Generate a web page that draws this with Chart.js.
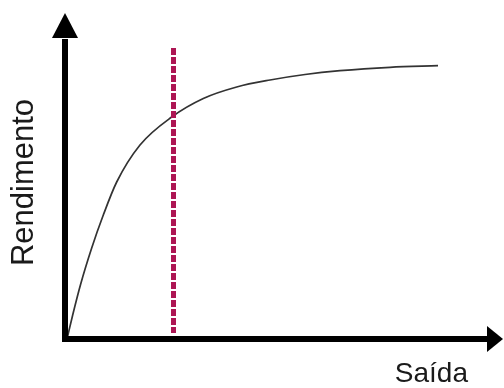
<!DOCTYPE html>
<html>
<head>
<meta charset="utf-8">
<script src="https://cdn.jsdelivr.net/npm/chart.js@4/dist/chart.umd.min.js"></script>
<style>
html,body{margin:0;padding:0;background:#fff;}
canvas{display:block;}
</style>
</head>
<body>
<canvas id="c" width="504" height="388"></canvas>
<script>
// Curve (Saída -> Rendimento) in arbitrary units
const curveX = [2, 7.7, 15.7, 26.7, 38.3, 51.7, 75, 106.7, 138.3, 171.7, 205, 240, 275, 325, 373];
const curveY = [0, 24, 55, 91, 124, 157, 194, 222, 240.5, 252, 259, 264.5, 268.3, 271.7, 273.3];
// Vertical dashed marker
const markerX = [108.5, 108.5];
const markerY = [291, 6];
// Axis ranges
const xRange = [0, 403];
const yRange = [0, 313];
const xLabel = 'Saída';
const yLabel = 'Rendimento';

const arrowAxes = {
  id: 'arrowAxes',
  afterDatasetsDraw(chart) {
    const {ctx, chartArea: a} = chart;
    ctx.save();
    ctx.fillStyle = '#000';
    ctx.strokeStyle = '#000';
    ctx.lineWidth = 6;
    // vertical axis
    ctx.beginPath();
    ctx.moveTo(a.left, a.bottom + 3);
    ctx.lineTo(a.left, a.top + 13);
    ctx.stroke();
    ctx.beginPath();
    ctx.moveTo(a.left, a.top - 13);
    ctx.lineTo(a.left - 13, a.top + 12);
    ctx.lineTo(a.left + 13, a.top + 12);
    ctx.closePath();
    ctx.fill();
    // horizontal axis
    ctx.beginPath();
    ctx.moveTo(a.left - 3, a.bottom);
    ctx.lineTo(a.right + 20, a.bottom);
    ctx.stroke();
    ctx.beginPath();
    ctx.moveTo(a.right + 35, a.bottom);
    ctx.lineTo(a.right + 19, a.bottom - 13);
    ctx.lineTo(a.right + 19, a.bottom + 13);
    ctx.closePath();
    ctx.fill();
    ctx.restore();
  }
};

new Chart(document.getElementById('c'), {
  type: 'line',
  data: {
    datasets: [
      {
        data: markerX.map((x, i) => ({x, y: markerY[i]})),
        borderColor: '#ad1654',
        borderWidth: 5,
        borderDash: [7, 2],
        pointRadius: 0,
        tension: 0
      },
      {
        data: curveX.map((x, i) => ({x, y: curveY[i]})),
        borderColor: '#333333',
        borderWidth: 1.7,
        pointRadius: 0,
        cubicInterpolationMode: 'monotone',
        fill: false
      }
    ]
  },
  options: {
    responsive: false,
    animation: false,
    devicePixelRatio: 1,
    layout: { padding: { left: 9, right: 36, top: 26, bottom: 0 } },
    plugins: { legend: { display: false }, tooltip: { enabled: false } },
    scales: {
      x: {
        type: 'linear', min: xRange[0], max: xRange[1],
        grid: { display: false, drawTicks: false },
        border: { display: false },
        ticks: { display: false },
        title: {
          display: true, text: xLabel, align: 'end', color: '#1a1a1a',
          font: { family: 'Liberation Sans', size: 28, lineHeight: 1 },
          padding: { top: 21, bottom: 0 }
        }
      },
      y: {
        type: 'linear', min: yRange[0], max: yRange[1],
        grid: { display: false, drawTicks: false },
        border: { display: false },
        ticks: { display: false },
        title: {
          display: true, text: yLabel, color: '#1a1a1a',
          font: { family: 'Liberation Sans', size: 31, lineHeight: 1 },
          padding: { top: 0, bottom: 25 }
        }
      }
    }
  },
  plugins: [arrowAxes]
});
</script>
</body>
</html>
